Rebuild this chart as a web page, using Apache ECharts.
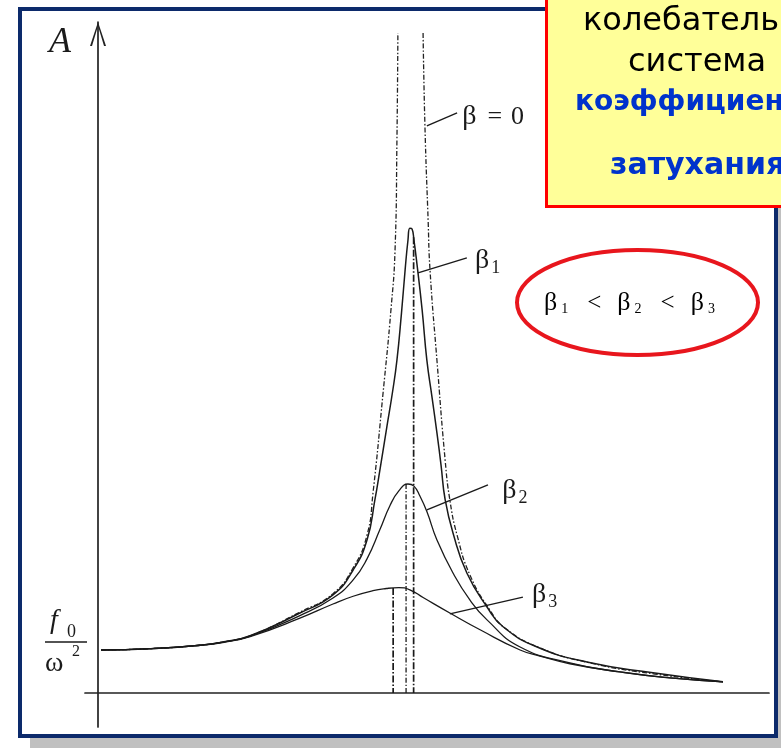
<!DOCTYPE html>
<html>
<head>
<meta charset="utf-8">
<script src="https://cdn.jsdelivr.net/npm/echarts@6/dist/echarts.min.js"></script>
<style>
  html, body { margin: 0; padding: 0; background: #ffffff; }
  #chart { width: 781px; height: 748px; }
</style>
</head>
<body>
<div id="chart"></div>
<script>
// Forced oscillations: amplitude A against driving frequency ω.
// ω is measured in units of the natural frequency ω0, A in units of f0/ω².

// undamped curve (β = 0): two branches that run off to infinity at resonance
const curveBeta0Left = [
  [0.01, 1.00], [0.165, 1.03], [0.324, 1.11], [0.400, 1.19], [0.483, 1.33],
  [0.641, 1.88], [0.746, 2.31], [0.810, 2.91], [0.854, 3.67], [0.873, 4.65],
  [0.905, 6.98], [0.930, 8.91], [0.943, 10.30], [0.949, 12.86], [0.952, 15.35]
];
const curveBeta0Right = [
  [1.032, 15.35], [1.038, 13.16], [1.048, 11.00], [1.054, 9.84], [1.076, 7.74],
  [1.102, 5.42], [1.117, 4.49], [1.140, 3.67], [1.181, 2.74], [1.244, 1.93],
  [1.292, 1.51], [1.403, 1.05], [1.562, 0.70], [1.768, 0.44], [1.984, 0.26]
];
// weak damping β1
const curveBeta1 = [
  [0.01, 1.00], [0.165, 1.03], [0.324, 1.11], [0.400, 1.19], [0.483, 1.33],
  [0.641, 1.86], [0.746, 2.28], [0.810, 2.86], [0.854, 3.56], [0.879, 4.49],
  [0.895, 5.19], [0.917, 6.19], [0.935, 7.00], [0.949, 7.74], [0.963, 8.80],
  [0.975, 9.84], [0.984, 10.53], [0.990, 10.81], [0.997, 10.79], [1.003, 10.53],
  [1.013, 9.95], [1.029, 8.91], [1.044, 7.74], [1.060, 6.90], [1.076, 6.05],
  [1.089, 5.30], [1.102, 4.50], [1.127, 3.72], [1.171, 2.79], [1.235, 2.00],
  [1.286, 1.54], [1.394, 1.07], [1.552, 0.72], [1.762, 0.47], [1.984, 0.26]
];
// medium damping β2
const curveBeta2 = [
  [0.01, 1.00], [0.165, 1.03], [0.324, 1.11], [0.400, 1.19], [0.483, 1.32],
  [0.641, 1.80], [0.746, 2.21], [0.810, 2.63], [0.854, 3.12], [0.895, 3.80],
  [0.927, 4.36], [0.955, 4.70], [0.984, 4.86], [1.003, 4.81], [1.022, 4.58],
  [1.044, 4.22], [1.076, 3.56], [1.127, 2.79], [1.181, 2.16], [1.235, 1.70],
  [1.340, 1.07], [1.498, 0.70], [1.657, 0.49], [1.816, 0.35], [1.984, 0.26]
];
// strong damping β3
const curveBeta3 = [
  [0.01, 1.00], [0.165, 1.03], [0.324, 1.11], [0.400, 1.18], [0.483, 1.31],
  [0.641, 1.74], [0.746, 2.07], [0.810, 2.25], [0.873, 2.38], [0.915, 2.43],
  [0.955, 2.45], [0.990, 2.40], [1.032, 2.22], [1.117, 1.86], [1.213, 1.47],
  [1.340, 1.00], [1.403, 0.86], [1.498, 0.68], [1.657, 0.49], [1.816, 0.35],
  [1.984, 0.26]
];
// resonance frequency and peak amplitude of each damped curve
const resonanceBeta1 = [1.002, 10.6];
const resonanceBeta2 = [0.978, 4.86];
const resonanceBeta3 = [0.937, 2.44];

// curve names and the annotation leaders (from the curve out to the name)
const curveNames = ['β = 0', 'β1', 'β2', 'β3'];
const leaderBeta0 = [[1.044, 13.19], [1.140, 13.49]];
const leaderBeta1 = [[1.016, 9.77], [1.171, 10.12]];
const leaderBeta2 = [[1.044, 4.26], [1.238, 4.84]];
const leaderBeta3 = [[1.117, 1.84], [1.349, 2.23]];
const namePosBeta0 = [1.156, 13.40];
const namePosBeta1 = [1.197, 10.05];
const namePosBeta2 = [1.283, 4.70];
const namePosBeta3 = [1.378, 2.28];

const SERIF = '"Liberation Serif", "Times New Roman", serif';
const SANS = '"DejaVu Sans", Verdana, sans-serif';
const INK = '#1a1a1a';

// β with a numeric subscript as rich text
function betaName(name) {
  const m = /^β(\d)$/.exec(name);
  if (m) return '{b|β}{s|' + m[1] + '}';
  const parts = name.split(' ');
  return '{b|' + parts[0] + '}{e|' + parts[1] + '}{z|' + parts[2] + '}';
}
const nameRich = {
  b: { fontFamily: SERIF, fontSize: 28, color: INK },
  s: { fontFamily: SERIF, fontSize: 18, color: INK, padding: [14, 0, 0, 2] },
  e: { fontFamily: SERIF, fontSize: 26, color: INK, padding: [0, 9, 0, 11] },
  z: { fontFamily: SERIF, fontSize: 26, color: INK }
};

function leader(points) {
  return {
    silent: true,
    symbol: ['none', 'none'],
    lineStyle: { type: 'solid', color: INK, width: 1.4 },
    label: { show: false },
    data: [[{ coord: points[0] }, { coord: points[1] }]]
  };
}
function nameTag(pos, name) {
  return {
    silent: true,
    symbol: 'circle',
    symbolSize: 0,
    label: {
      show: true, position: 'right', distance: 0,
      formatter: betaName(name), rich: nameRich
    },
    data: [{ coord: pos }]
  };
}
function curve(name, data, lineStyle, extra) {
  return Object.assign({
    type: 'line', name: name, data: data,
    showSymbol: false, smooth: 0.5, silent: true,
    lineStyle: lineStyle
  }, extra || {});
}
function resonanceLine(res, dash, width) {
  return {
    type: 'line', data: [[res[0], res[1]], [res[0], 0]],
    showSymbol: false, silent: true,
    lineStyle: { color: INK, width: width, type: dash }
  };
}

const dashDot = [5, 2, 1.5, 2];
const chart = echarts.init(document.getElementById('chart'), null, { renderer: 'canvas' });

chart.setOption({
  animation: false,
  backgroundColor: '#ffffff',
  grid: { left: 85, right: 12, top: 22, bottom: 21, outerBoundsMode: 'none' },
  xAxis: {
    type: 'value', min: -0.0413, max: 2.1302,
    axisLine: { show: true, onZero: true, lineStyle: { color: '#222', width: 1.7 } },
    axisTick: { show: false }, axisLabel: { show: false }, splitLine: { show: false }
  },
  yAxis: {
    type: 'value', min: -0.791, max: 15.605,
    axisLine: {
      show: true, onZero: true,
      symbol: ['none', 'path://M10,0 L20,30 L17.5,30 L10,5 L2.5,30 L0,30 Z'],
      symbolSize: [16, 24], symbolOffset: [0, -12],
      lineStyle: { color: '#222', width: 1.7 }
    },
    axisTick: { show: false }, axisLabel: { show: false }, splitLine: { show: false }
  },
  series: [
    curve('β = 0 (ω < ω0)', curveBeta0Left, { color: '#222', width: 1.3, type: dashDot }),
    curve('β = 0 (ω > ω0)', curveBeta0Right, { color: '#222', width: 1.3, type: dashDot }, {
      markLine: leader(leaderBeta0), markPoint: nameTag(namePosBeta0, curveNames[0])
    }),
    curve('β1', curveBeta1, { color: INK, width: 1.5 }, {
      markLine: leader(leaderBeta1), markPoint: nameTag(namePosBeta1, curveNames[1])
    }),
    curve('β2', curveBeta2, { color: INK, width: 1.3 }, {
      markLine: leader(leaderBeta2), markPoint: nameTag(namePosBeta2, curveNames[2])
    }),
    curve('β3', curveBeta3, { color: INK, width: 1.3 }, {
      markLine: leader(leaderBeta3), markPoint: nameTag(namePosBeta3, curveNames[3])
    }),
    resonanceLine(resonanceBeta1, [7, 2, 1.5, 2], 1.7),
    resonanceLine(resonanceBeta2, [5, 2, 1.2, 2], 1.3),
    resonanceLine(resonanceBeta3, [7, 2, 1.5, 2], 1.7)
  ],
  graphic: [
    // slide frame with its drop shadow
    { type: 'rect', z: -20, silent: true, shape: { x: 30, y: 18, width: 800, height: 800 }, style: { fill: '#c0c0c0' } },
    { type: 'rect', z: -10, silent: true, shape: { x: 20, y: 9, width: 756, height: 727 }, style: { fill: '#ffffff', stroke: '#0c2a6b', lineWidth: 4 } },
    // axis name and the static level f0/ω²
    { type: 'text', z: 10, silent: true, style: { text: 'A', x: 49, y: 43, fill: INK, font: 'italic 36px ' + SERIF, verticalAlign: 'middle' } },
    { type: 'text', z: 10, silent: true, style: { text: 'f', x: 50, y: 621, fill: INK, font: 'italic 28px ' + SERIF, verticalAlign: 'middle' } },
    { type: 'text', z: 10, silent: true, style: { text: '0', x: 67, y: 632, fill: INK, font: '18px ' + SERIF, verticalAlign: 'middle' } },
    { type: 'line', z: 10, silent: true, shape: { x1: 45, y1: 642, x2: 87, y2: 642 }, style: { stroke: INK, lineWidth: 1.5 } },
    { type: 'text', z: 10, silent: true, style: { text: 'ω', x: 45, y: 664, fill: INK, font: '28px ' + SERIF, verticalAlign: 'middle' } },
    { type: 'text', z: 10, silent: true, style: { text: '2', x: 72, y: 652, fill: INK, font: '16px ' + SERIF, verticalAlign: 'middle' } },
    // callout box
    { type: 'rect', z: 50, silent: true, shape: { x: 546.5, y: -20, width: 300, height: 226.5 }, style: { fill: '#ffff99', stroke: '#ff0000', lineWidth: 3 } },
    { type: 'text', z: 51, silent: true, style: { text: 'колебательная', x: 583, y: 22, fill: '#000', font: '32px ' + SANS, verticalAlign: 'middle' } },
    { type: 'text', z: 51, silent: true, style: { text: 'система', x: 628, y: 63, fill: '#000', font: '32px ' + SANS, verticalAlign: 'middle' } },
    { type: 'text', z: 51, silent: true, style: { text: 'коэффициент', x: 575, y: 103, fill: '#0033cc', font: 'bold 28px ' + SANS, verticalAlign: 'middle' } },
    { type: 'text', z: 51, silent: true, style: { text: 'затухания', x: 610, y: 166, fill: '#0033cc', font: 'bold 30px ' + SANS, verticalAlign: 'middle' } },
    // ordering of the damping coefficients
    { type: 'ellipse', z: 50, silent: true, shape: { cx: 637.5, cy: 302.5, rx: 120.5, ry: 52.5 }, style: { fill: 'none', stroke: '#e8161d', lineWidth: 4 } },
    {
      type: 'text', z: 51, silent: true,
      style: {
        text: '{b|β}{s|1}{o|<}{b|β}{s|2}{o|<}{b|β}{s|3}',
        x: 544, y: 303, verticalAlign: 'middle',
        rich: {
          b: { fontFamily: SERIF, fontSize: 26, color: '#444' },
          s: { fontFamily: SERIF, fontSize: 14, color: '#444', padding: [12, 0, 0, 4] },
          o: { fontFamily: SERIF, fontSize: 25, color: '#444', padding: [0, 16, 0, 19] }
        }
      }
    }
  ]
});
</script>
</body>
</html>
